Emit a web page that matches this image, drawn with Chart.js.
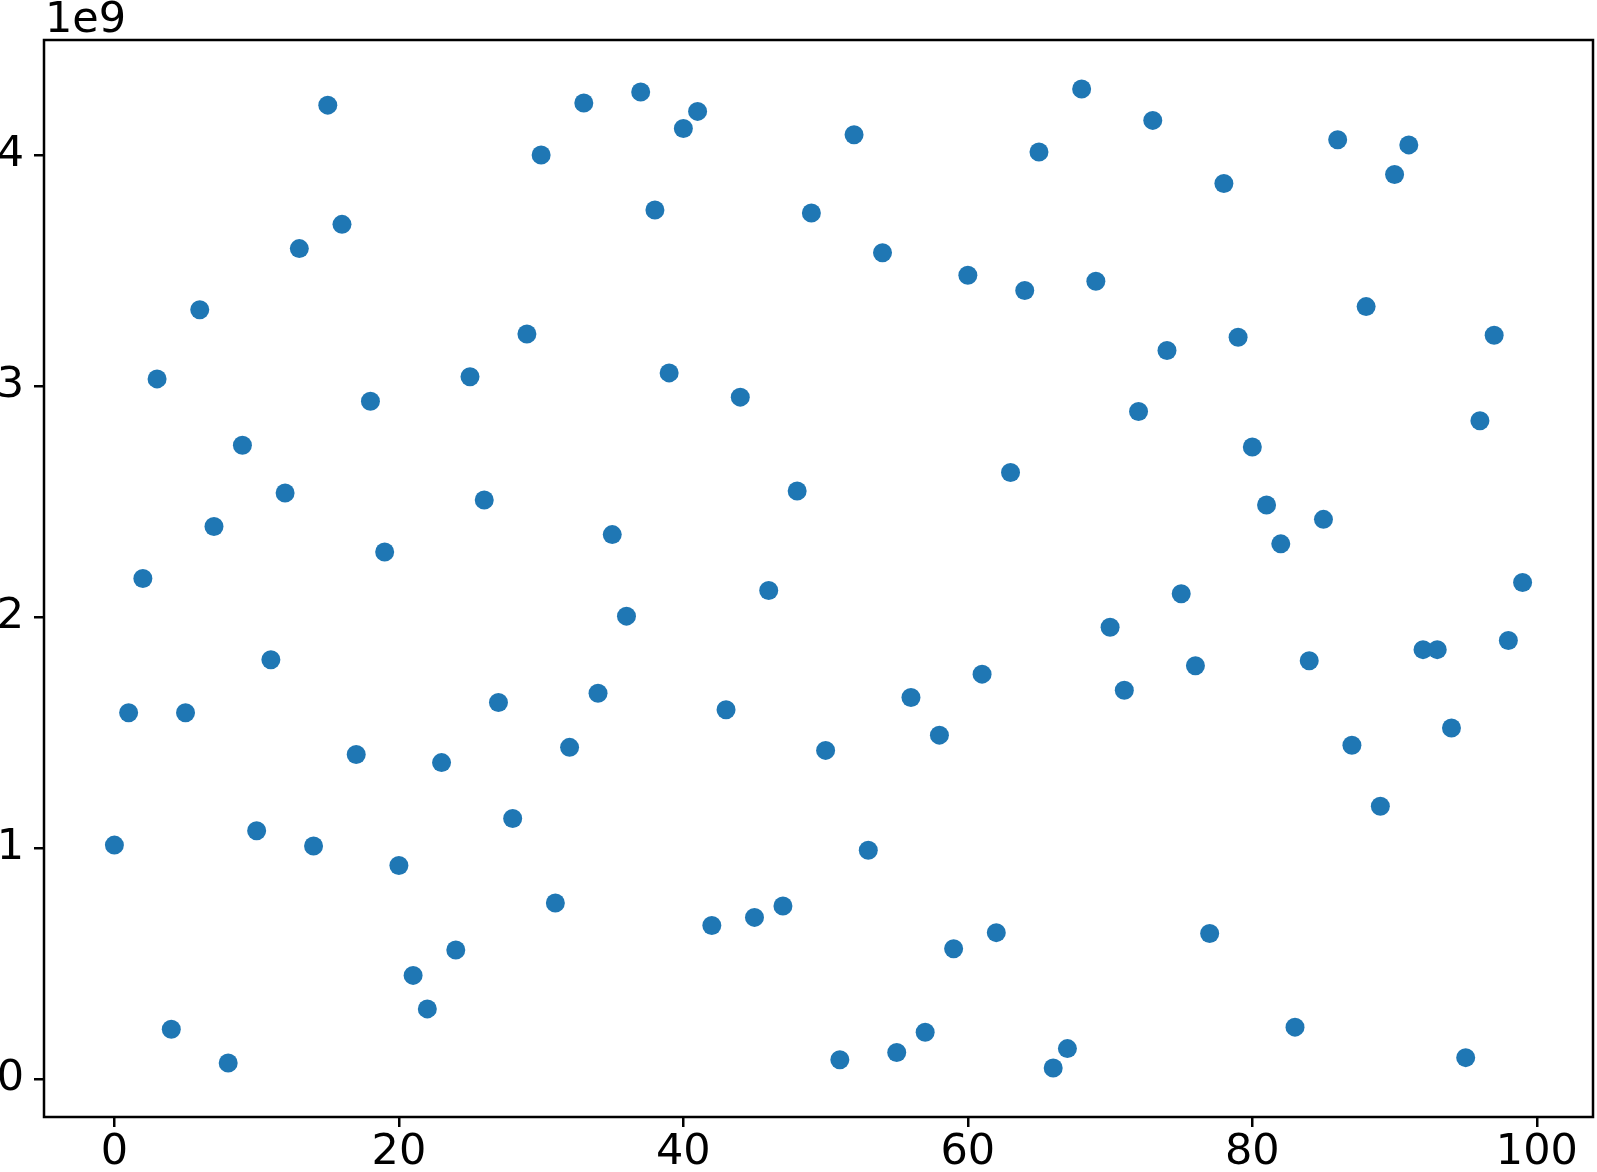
<!DOCTYPE html>
<html>
<head>
<meta charset="utf-8">
<script src="https://cdn.jsdelivr.net/npm/chart.js@4"></script>
<style>
  html, body { margin: 0; padding: 0; background: #fff; }
  canvas { display: block; }
</style>
</head>
<body>
<canvas id="scatterChart" width="1597" height="1172"></canvas>
<script>
// values, y in units of 1e9
const xValues = Array.from({ length: 100 }, (_, i) => i);
const yValues = [
  1.013, 1.586, 2.167, 3.031, 0.216, 1.586, 3.330, 2.392, 0.070, 2.744,
  1.075, 1.815, 2.537, 3.595, 1.009, 4.216, 3.700, 1.405, 2.934, 2.282,
  0.925, 0.449, 0.304, 1.370, 0.559, 3.040, 2.507, 1.630, 1.128, 3.225,
  4.000, 0.762, 1.436, 4.225, 1.670, 2.357, 2.004, 4.273, 3.762, 3.057,
  4.115, 4.189, 0.665, 1.599, 2.952, 0.700, 2.115, 0.749, 2.546, 3.749,
  1.423, 0.084, 4.088, 0.991, 3.577, 0.115, 1.652, 0.203, 1.489, 0.564,
  3.480, 1.753, 0.634, 2.626, 3.414, 4.013, 0.048, 0.132, 4.286, 3.454,
  1.956, 1.683, 2.890, 4.150, 3.154, 2.101, 1.789, 0.630, 3.877, 3.211,
  2.736, 2.485, 2.317, 0.225, 1.811, 2.423, 4.066, 1.445, 3.344, 1.181,
  3.916, 4.044, 1.859, 1.859, 1.520, 0.093, 2.850, 3.220, 1.899, 2.150
];
const xTicks = [0, 20, 40, 60, 80, 100];
const yTicks = [0, 1, 2, 3, 4];
const yScaleFactor = 1e9;

const points = xValues.map((x, i) => ({ x: x, y: yValues[i] * yScaleFactor }));

const tickFont = { family: 'DejaVu Sans', size: 43 };

// axes box on all four sides plus the "1e9" offset text
const framePlugin = {
  id: 'frame',
  afterDraw(chart) {
    const { ctx, chartArea } = chart;
    ctx.save();
    ctx.strokeStyle = '#000';
    ctx.lineWidth = 2.5;
    ctx.strokeRect(chartArea.left, chartArea.top,
      chartArea.right - chartArea.left, chartArea.bottom - chartArea.top);
    ctx.fillStyle = '#000';
    ctx.font = '43px "DejaVu Sans"';
    ctx.textAlign = 'left';
    ctx.textBaseline = 'alphabetic';
    ctx.fillText('1e9', chartArea.left + 1, chartArea.top - 8);
    ctx.restore();
  }
};

const ctx = document.getElementById('scatterChart').getContext('2d');
new Chart(ctx, {
  type: 'scatter',
  data: {
    datasets: [{
      data: points,
      backgroundColor: '#1f77b4',
      borderWidth: 0,
      pointRadius: 9.5,
      pointHoverRadius: 9.5
    }]
  },
  options: {
    responsive: false,
    animation: false,
    devicePixelRatio: 1,
    layout: { autoPadding: false, padding: { top: 40, right: 4, left: 0, bottom: 0 } },
    plugins: {
      legend: { display: false },
      tooltip: { enabled: false }
    },
    scales: {
      x: {
        type: 'linear',
        min: -4.95,
        max: 103.95,
        afterBuildTicks: (scale) => { scale.ticks = xTicks.map(v => ({ value: v })); },
        afterFit: (scale) => {
          scale.height = 55;
          scale.paddingLeft = 0;
          scale.paddingRight = 0;
        },
        grid: { drawOnChartArea: false, color: '#000', tickLength: 10, tickWidth: 2.5, lineWidth: 2.5 },
        border: { display: false },
        ticks: { color: '#000', font: tickFont, padding: 0, maxRotation: 0 }
      },
      y: {
        type: 'linear',
        min: -0.164 * yScaleFactor,
        max: 4.498 * yScaleFactor,
        afterBuildTicks: (scale) => { scale.ticks = yTicks.map(v => ({ value: v * yScaleFactor })); },
        afterFit: (scale) => {
          scale.width = 44;
          scale.paddingTop = 0;
          scale.paddingBottom = 0;
        },
        grid: { drawOnChartArea: false, color: '#000', tickLength: 10, tickWidth: 2.5, lineWidth: 2.5 },
        border: { display: false },
        ticks: {
          color: '#000', font: tickFont, padding: 10,
          callback: (v) => String(Math.round(v / yScaleFactor))
        }
      }
    }
  },
  plugins: [framePlugin]
});
</script>
</body>
</html>
